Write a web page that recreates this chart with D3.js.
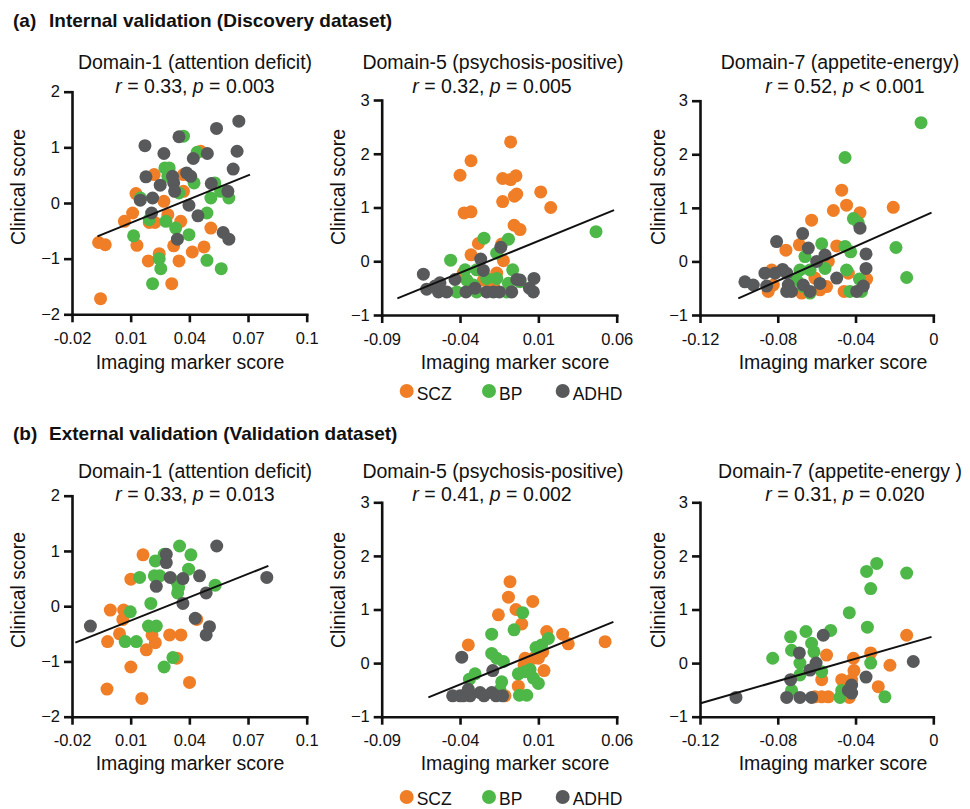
<!DOCTYPE html>
<html><head><meta charset="utf-8">
<script src="https://cdn.jsdelivr.net/npm/d3@7"></script>
<style>body{margin:0;background:#fff}svg text{font-family:"Liberation Sans",Arial,Helvetica,sans-serif;fill:#111}</style>
</head><body>
<svg id="c" width="970" height="809"></svg>
<script>
// ---------- data ----------
const groups = ["SCZ","BP","ADHD"];
const groupColors = ["#f07e26","#4db848","#58595b"];

const titles = ["Domain-1 (attention deficit)","Domain-5 (psychosis-positive)","Domain-7 (appetite-energy)",
                "Domain-1 (attention deficit)","Domain-5 (psychosis-positive)","Domain-7 (appetite-energy )"];
const rValues = ["0.33","0.32","0.52","0.33","0.41","0.31"];
const pValues = ["= 0.003","= 0.005","< 0.001","= 0.013","= 0.002","= 0.020"];

const xTicksD1 = [-0.02,0.01,0.04,0.07,0.1];
const xLabelsD1 = ["-0.02","0.01","0.04","0.07","0.1"];
const xTicksD5 = [-0.09,-0.04,0.01,0.06];
const xLabelsD5 = ["-0.09","-0.04","0.01","0.06"];
const xTicksD7 = [-0.12,-0.08,-0.04,0];
const xLabelsD7 = ["-0.12","-0.08","-0.04","0"];
const yTicksD1 = [-2,-1,0,1,2];
const yTicksD57 = [-1,0,1,2,3];

// Panel 1: Discovery, Domain-1
const p1SCZ = [[-0.0064,-0.71],[-0.003,-0.75],[-0.0054,-1.72],[0.0068,-0.33],[0.011,-0.18],[0.0127,0.17],[0.0132,-0.76],[0.019,-1.04],[0.0195,-0.35],[0.0224,-0.35],[0.022,0.51],[0.0246,-0.91],[0.027,0.03],[0.029,-0.21],[0.031,-1.45],[0.032,-0.77],[0.0347,-1.04],[0.0356,-0.33],[0.037,0.21],[0.037,0.51],[0.0415,-0.88],[0.0458,0.93],[0.0475,-0.79],[0.051,-0.45]];
const p1BP = [[0.0115,-0.59],[0.015,0.09],[0.0195,-0.30],[0.0212,-1.45],[0.0246,-1.00],[0.0254,-1.18],[0.0275,0.63],[0.0297,0.63],[0.029,0.48],[0.028,-0.33],[0.033,-0.45],[0.0347,0.18],[0.037,1.20],[0.0398,-0.57],[0.0424,0.36],[0.044,0.91],[0.049,-0.18],[0.051,0.09],[0.053,0.36],[0.056,0.21],[0.0563,-1.18],[0.0602,0.09],[0.049,-1.03]];
const p1ADHD = [[0.0173,1.03],[0.0178,0.47],[0.0149,0.05],[0.0212,0.09],[0.0207,-0.18],[0.0251,0.32],[0.027,0.89],[0.0314,0.48],[0.032,0.36],[0.0325,0.21],[0.0347,1.19],[0.0339,-0.65],[0.0386,0.54],[0.0407,0.48],[0.0398,-0.04],[0.042,0.80],[0.0444,-0.23],[0.0492,0.89],[0.0512,0.35],[0.0539,1.34],[0.0573,-0.53],[0.0602,-0.65],[0.0597,0.21],[0.0624,0.61],[0.0644,0.93],[0.0653,1.47]];
const p1Fit = [[-0.007,-0.60],[0.071,0.51]];

// Panel 2: Discovery, Domain-5
const p2SCZ = [[-0.0077,2.22],[-0.033,1.87],[-0.040,1.60],[-0.0128,1.54],[-0.0077,1.52],[-0.0043,1.59],[-0.0038,1.25],[-0.0053,1.21],[0.0115,1.29],[0.0179,1.00],[-0.0128,1.11],[-0.0374,0.90],[-0.033,0.92],[-0.0055,0.67],[-0.0017,0.59],[-0.0283,0.33],[-0.033,0.12],[-0.0134,0.32],[-0.0123,0.01],[-0.0166,-0.22],[-0.025,-0.35],[-0.0187,-0.44],[-0.038,-0.22]];
const p2BP = [[-0.046,0.02],[-0.0247,0.43],[-0.0166,0.15],[-0.0091,0.41],[-0.0064,-0.16],[-0.0368,-0.16],[-0.0294,-0.16],[0.0468,0.55],[-0.042,-0.57],[-0.0357,-0.35],[-0.0315,-0.44],[-0.023,-0.32],[-0.0166,-0.32],[-0.0091,-0.41],[-0.0102,-0.57],[-0.0017,-0.38],[-0.0294,-0.57]];
const p2ADHD = [[-0.0634,-0.24],[-0.0613,-0.52],[-0.0538,-0.57],[-0.0528,-0.40],[-0.0485,-0.57],[-0.0432,-0.34],[-0.0362,-0.57],[-0.0304,-0.50],[-0.0268,0.04],[-0.0251,-0.17],[-0.023,-0.57],[-0.0187,-0.57],[-0.014,0.26],[-0.0149,-0.57],[-0.007,-0.57],[-0.0038,-0.34],[-0.0017,-0.35],[0.0043,-0.50],[0.0068,-0.57],[0.0072,-0.32],[-0.056,-0.46]];
const p2Fit = [[-0.080,-0.69],[0.0583,0.95]];

// Panel 3: Discovery, Domain-7
const p3SCZ = [[-0.0471,1.33],[-0.0446,1.05],[-0.0514,0.95],[-0.0377,0.91],[-0.0206,1.01],[-0.0626,0.77],[-0.0758,0.21],[-0.0689,0.31],[-0.0497,0.29],[-0.0831,-0.16],[-0.0849,-0.56],[-0.0823,-0.44],[-0.0677,-0.59],[-0.0583,-0.53],[-0.0549,-0.47],[-0.054,0.00],[-0.0459,-0.56],[-0.0437,-0.22],[-0.0343,-0.33],[-0.0609,-0.31]];
const p3BP = [[-0.0063,2.59],[-0.0454,1.94],[-0.0411,0.80],[-0.0386,0.72],[-0.0192,0.26],[-0.0137,-0.30],[-0.0574,0.33],[-0.0454,0.28],[-0.0425,0.18],[-0.0686,-0.16],[-0.066,0.09],[-0.0634,-0.16],[-0.0557,-0.13],[-0.0703,-0.35],[-0.0446,-0.16],[-0.038,-0.33],[-0.0429,-0.56],[-0.0369,-0.56],[-0.0634,-0.59],[-0.0669,-0.47]];
const p3ADHD = [[-0.0969,-0.38],[-0.0926,-0.44],[-0.0866,-0.22],[-0.0857,-0.46],[-0.0806,0.37],[-0.0814,-0.22],[-0.0775,-0.15],[-0.0754,-0.22],[-0.0746,-0.44],[-0.0729,-0.56],[-0.0672,0.52],[-0.0643,0.25],[-0.0669,-0.44],[-0.0634,-0.56],[-0.060,0.00],[-0.0557,0.12],[-0.0583,-0.41],[-0.0497,-0.31],[-0.0377,0.62],[-0.0346,0.14],[-0.0346,-0.13],[-0.036,-0.46],[-0.0394,-0.56],[-0.0754,-0.56]];
const p3Fit = [[-0.1003,-0.69],[-0.0009,0.91]];

// Panel 4: Validation, Domain-1
const p4SCZ = [[0.0163,0.93],[0.0101,0.49],[-0.0004,-0.07],[0.0064,-0.07],[0.006,-0.24],[0.0043,-0.50],[-0.0018,-0.64],[0.0101,-1.10],[-0.0021,-1.50],[0.0157,-1.67],[0.018,-0.79],[0.0209,-0.52],[0.0226,-0.66],[0.0299,-0.52],[0.0357,-0.52],[0.0336,-0.94],[0.0401,-1.38],[0.0438,-0.24]];
const p4BP = [[0.0146,0.52],[0.0098,-0.10],[0.0072,-0.64],[0.0129,-0.64],[0.0203,0.05],[0.0191,-0.36],[0.0231,-0.36],[0.0221,0.55],[0.0248,0.55],[0.0226,0.82],[0.0271,0.94],[0.035,1.09],[0.0408,0.93],[0.0396,0.67],[0.0336,0.44],[0.0345,0.34],[0.034,0.24],[0.0316,-0.93],[0.0271,-1.10],[0.0532,0.38]];
const p4ADHD = [[-0.0106,-0.36],[0.0231,0.36],[0.0282,0.94],[0.0282,0.79],[0.0302,0.52],[0.0367,0.50],[0.0367,0.05],[0.0452,0.55],[0.0486,0.24],[0.043,-0.22],[0.0503,-0.37],[0.0486,-0.52],[0.054,1.09],[0.0796,0.52]];
const p4Fit = [[-0.0183,-0.66],[0.0804,0.73]];

// Panel 5: Validation, Domain-5
const p5SCZ = [[-0.0081,1.52],[-0.0091,1.23],[-0.0043,1.00],[0.0064,1.15],[-0.0155,0.90],[-0.0006,0.73],[-0.0347,0.34],[0.0153,0.59],[0.0255,0.54],[0.0291,0.36],[0.0526,0.40],[0.0015,0.09],[0.0068,0.09],[0.0128,0.21],[0.0009,-0.04],[0.0136,-0.14],[-0.0028,-0.43],[-0.0113,-0.61],[0.01,0.09]];
const p5BP = [[0.0,0.94],[-0.0055,0.62],[-0.0198,0.54],[0.0085,0.29],[0.0121,0.34],[0.0164,0.46],[-0.0198,0.18],[-0.0166,0.09],[-0.0123,0.03],[-0.0304,-0.20],[-0.034,-0.30],[-0.0134,-0.35],[-0.0028,-0.20],[0.0015,-0.16],[0.0047,-0.12],[0.0068,-0.28],[0.01,-0.38],[-0.0021,-0.60],[0.0026,-0.60],[-0.0145,-0.50]];
const p5ADHD = [[-0.0389,0.11],[-0.0191,-0.14],[-0.0447,-0.61],[-0.040,-0.61],[-0.0347,-0.49],[-0.0336,-0.61],[-0.0272,-0.55],[-0.0247,-0.61],[-0.0198,-0.55],[-0.017,-0.61],[-0.0128,-0.61],[-0.0379,-0.61]];
const p5Fit = [[-0.0602,-0.64],[0.0579,0.77]];

// Panel 6: Validation, Domain-7
const p6SCZ = [[-0.0137,0.52],[-0.0322,0.19],[-0.0411,0.09],[-0.0408,-0.14],[-0.0223,-0.04],[-0.0283,-0.44],[-0.0549,0.15],[-0.0574,-0.31],[-0.0471,-0.31],[-0.042,-0.31],[-0.0429,-0.45],[-0.0609,-0.63],[-0.0574,-0.63],[-0.054,-0.63],[-0.0432,-0.64]];
const p6BP = [[-0.0826,0.09],[-0.0734,0.49],[-0.0729,0.24],[-0.0655,0.59],[-0.0626,0.37],[-0.0614,0.21],[-0.0686,0.0],[-0.0686,-0.22],[-0.0574,-0.16],[-0.0528,0.61],[-0.0729,-0.51],[-0.0432,0.94],[-0.0343,1.71],[-0.0291,1.86],[-0.0322,1.39],[-0.0339,0.67],[-0.0322,0.0],[-0.0137,1.68],[-0.0249,-0.63],[-0.0471,-0.51],[-0.048,-0.64]];
const p6ADHD = [[-0.1015,-0.64],[-0.0754,-0.64],[-0.0686,-0.64],[-0.0626,-0.64],[-0.0734,-0.31],[-0.0689,0.19],[-0.0634,-0.13],[-0.0603,0.0],[-0.0566,0.52],[-0.0437,-0.51],[-0.042,-0.41],[-0.042,-0.56],[-0.0346,-0.26],[-0.0103,0.03]];
const p6Fit = [[-0.1197,-0.75],[-0.0009,0.49]];

// ---------- layout ----------
const colX = [{l:72, r:306.7, t:195, t2:195, xl:190, yl:25},
              {l:381.7, r:616.7, t:493, t2:492, xl:515, yl:345},
              {l:700, r:933.3, t:840, t2:845, xl:833, yl:665}];
const rowY = [{top:[91.7,100,100.7], bottom:[314.3,315,315], t1:69, t2:92.5, xlab:369, ylabC:187, head:27, leg:391, legT:400},
              {top:[495.7,502.3,502.3], bottom:[716.7,716.7,716.7], t1:478, t2:501, xlab:770, ylabC:590, head:440, leg:797, legT:805}];

const panelData = [
  {series:[p1SCZ,p1BP,p1ADHD], fit:p1Fit, xT:xTicksD1, xL:xLabelsD1, xD:[-0.02,0.1], yT:yTicksD1, yD:[-2,2]},
  {series:[p2SCZ,p2BP,p2ADHD], fit:p2Fit, xT:xTicksD5, xL:xLabelsD5, xD:[-0.09,0.06], yT:yTicksD57, yD:[-1,3]},
  {series:[p3SCZ,p3BP,p3ADHD], fit:p3Fit, xT:xTicksD7, xL:xLabelsD7, xD:[-0.12,0], yT:yTicksD57, yD:[-1,3]},
  {series:[p4SCZ,p4BP,p4ADHD], fit:p4Fit, xT:xTicksD1, xL:xLabelsD1, xD:[-0.02,0.1], yT:yTicksD1, yD:[-2,2]},
  {series:[p5SCZ,p5BP,p5ADHD], fit:p5Fit, xT:xTicksD5, xL:xLabelsD5, xD:[-0.09,0.06], yT:yTicksD57, yD:[-1,3]},
  {series:[p6SCZ,p6BP,p6ADHD], fit:p6Fit, xT:xTicksD7, xL:xLabelsD7, xD:[-0.12,0], yT:yTicksD57, yD:[-1,3]}
];
const headings = [["(a)","Internal validation (Discovery dataset)"],["(b)","External validation (Validation dataset)"]];

const svg = d3.select("#c");

panelData.forEach((p, i) => {
  const row = rowY[Math.floor(i/3)], c = i % 3, col = colX[c];
  const x = d3.scaleLinear().domain(p.xD).range([col.l, col.r]);
  const y = d3.scaleLinear().domain(p.yD).range([row.bottom[c], row.top[c]]);
  const g = svg.append("g");

  p.series.forEach((s, k) => {
    g.append("g").selectAll("circle").data(s).join("circle")
      .attr("cx", d => x(d[0])).attr("cy", d => y(d[1])).attr("r", 6.5)
      .attr("fill", groupColors[k]);
  });
  g.append("path").datum(p.fit)
    .attr("d", d3.line().x(d => x(d[0])).y(d => y(d[1])))
    .attr("stroke", "#111").attr("stroke-width", 2).attr("fill", "none");

  const xa = g.append("g").attr("transform", `translate(0,${row.bottom[c]})`)
    .call(d3.axisBottom(x).tickValues(p.xT).tickFormat((d, j) => p.xL[j]).tickSize(8).tickSizeOuter(0).tickPadding(10));
  const ya = g.append("g").attr("transform", `translate(${col.l},0)`)
    .call(d3.axisLeft(y).tickValues(p.yT).tickFormat(d3.format("d")).tickSize(8).tickSizeOuter(0).tickPadding(4));
  [xa, ya].forEach(a => {
    a.select(".domain").attr("stroke", "#111").attr("stroke-width", 2.6).attr("stroke-linecap", "square");
    a.selectAll(".tick line").attr("stroke", "#111").attr("stroke-width", 2.6);
    a.selectAll(".tick text").attr("font-size", 16.5).attr("fill", "#111")
      .style("font-family", '"Liberation Sans",Arial,sans-serif');
  });

  g.append("text").attr("x", col.t).attr("y", row.t1).attr("text-anchor", "middle")
    .attr("font-size", 19.5).text(titles[i]);
  const t2 = g.append("text").attr("x", col.t2).attr("y", row.t2).attr("text-anchor", "middle").attr("font-size", 19.5);
  t2.append("tspan").attr("font-style", "italic").text("r");
  t2.append("tspan").text(" = " + rValues[i] + ", ");
  t2.append("tspan").attr("font-style", "italic").text("p");
  t2.append("tspan").text(" " + pValues[i]);

  g.append("text").attr("x", col.xl).attr("y", row.xlab).attr("text-anchor", "middle")
    .attr("font-size", 19.5).text("Imaging marker score");
  g.append("text").attr("transform", `translate(${col.yl},${row.ylabC}) rotate(-90)`)
    .attr("text-anchor", "middle").attr("font-size", 19.5).text("Clinical score");
});

const legX = [406.7, 489, 562.7];
rowY.forEach((row, r) => {
  const h = svg.append("text").attr("y", row.head).attr("font-size", 19).attr("font-weight", "bold");
  h.append("tspan").attr("x", 13).text(headings[r][0]);
  h.append("tspan").attr("x", 49).text(headings[r][1]);
  const lg = svg.append("g");
  groups.forEach((gname, k) => {
    lg.append("circle").attr("cx", legX[k]).attr("cy", row.leg).attr("r", 7).attr("fill", groupColors[k]);
    lg.append("text").attr("x", legX[k] + 10).attr("y", row.legT).attr("font-size", 17.5).text(gname);
  });
});
</script>
</body></html>
